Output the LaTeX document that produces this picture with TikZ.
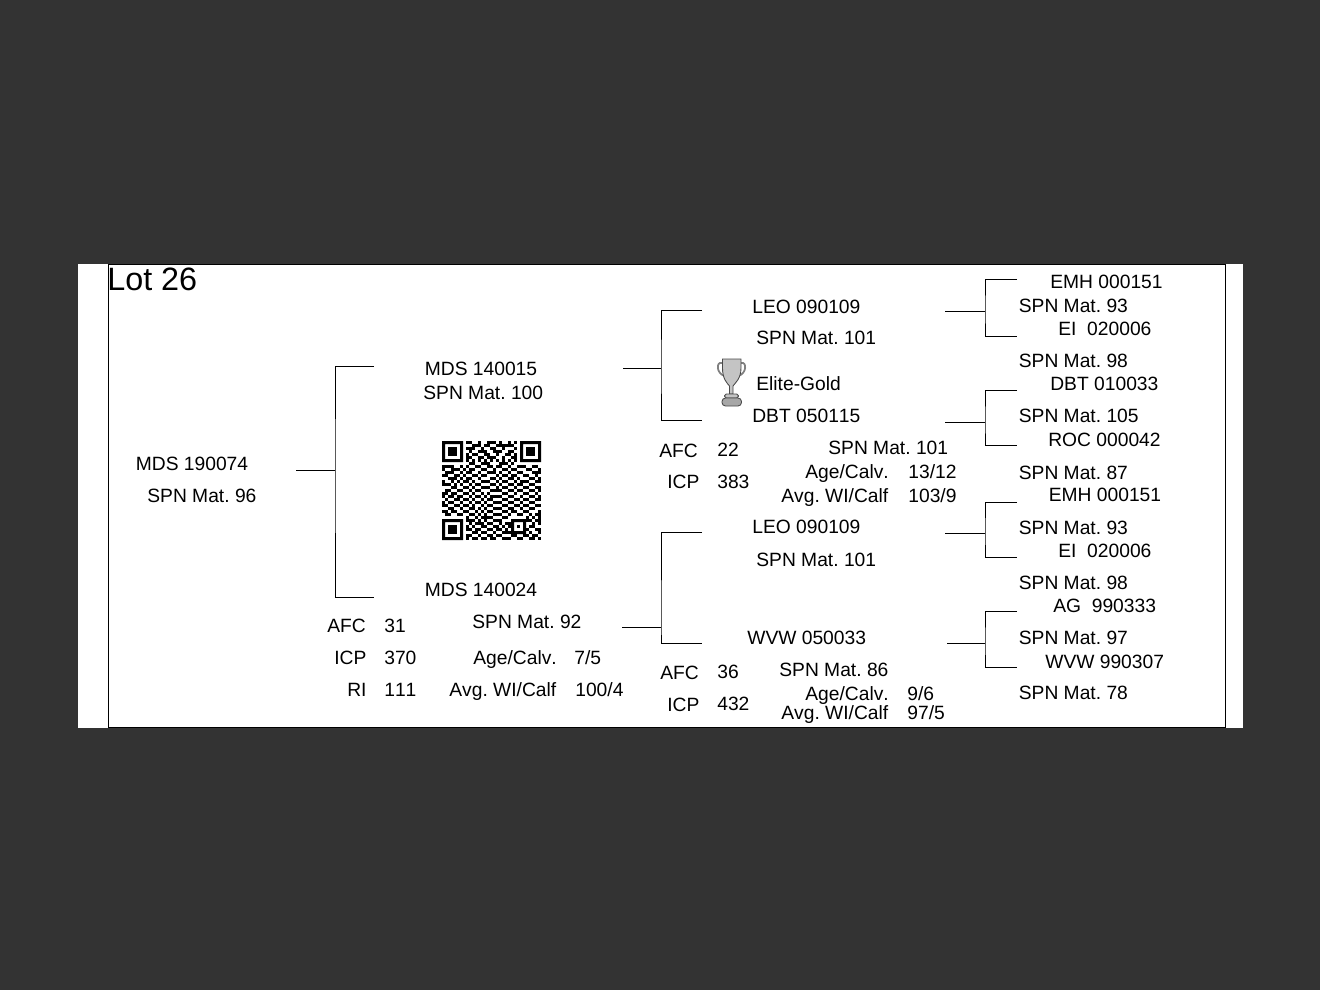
\documentclass[tikz,border=0pt]{standalone}
\usepackage{fontspec}
\setmainfont[Kerning=Off]{Liberation Sans}
\definecolor{backdrop}{HTML}{333333}
\definecolor{cupgray}{HTML}{C4C4C4}
\definecolor{cupline}{HTML}{4A4A4A}
\tikzset{
lbl/.style={anchor=base west,inner sep=0pt,font=\fontsize{10.95pt}{12pt}\selectfont},
brk/.style={line width=0.55pt,black},
qrcell/.style={fill=black},
}
\frenchspacing
\begin{document}
\begin{tikzpicture}[x=0.02cm,y=-0.02cm]
\useasboundingbox (0,0) rectangle (1320,990);
\fill[backdrop] (0,0) rectangle (1320,990);
\fill[white] (78,264) rectangle (1243,728);
\draw[line width=0.6pt] (108.5,264.5) rectangle (1225.5,727.5);
\node[lbl,font=\fontsize{18.4pt}{20pt}\selectfont] (lot) at (107,291) {Lot 26};
% first generation
\node[lbl] (calf) at (135.5,470) {MDS 190074};
\node[lbl] (calfspn) at (147,502) {SPN Mat. 96};
% second generation
\node[lbl] (sire) at (424.5,376) {MDS 140015};
\node[lbl] (sirespn) at (423,399) {SPN Mat. 100};
\node[lbl] (dam) at (424.5,596) {MDS 140024};
\node[lbl] (damspn) at (472,628) {SPN Mat. 92};
\node[lbl] (damafc) at (327,632) {AFC};
\node[lbl] (damafcv) at (384,632) {31};
\node[lbl] (damicp) at (334,664) {ICP};
\node[lbl] (damicpv) at (384,664) {370};
\node[lbl] (damri) at (347,696) {RI};
\node[lbl] (damriv) at (384,696) {111};
\node[lbl] (damage) at (473,664) {Age/Calv.};
\node[lbl] (damagev) at (574,664) {7/5};
\node[lbl] (damavg) at (449,696) {Avg. WI/Calf};
\node[lbl] (damavgv) at (575,696) {100/4};
% third generation
\node[lbl] (ss) at (752,313.5) {LEO 090109};
\node[lbl] (ssspn) at (756,344) {SPN Mat. 101};
\node[lbl] (elite) at (756,390) {Elite-Gold};
\node[lbl] (sd) at (752,422) {DBT 050115};
\node[lbl] (sdafc) at (659,457) {AFC};
\node[lbl] (sdafcv) at (717,456) {22};
\node[lbl] (sdicp) at (667,488) {ICP};
\node[lbl] (sdicpv) at (717,488) {383};
\node[lbl] (sdspn) at (828,454) {SPN Mat. 101};
\node[lbl] (sdage) at (805,478) {Age/Calv.};
\node[lbl] (sdagev) at (908,478) {13/12};
\node[lbl] (sdavg) at (781,502) {Avg. WI/Calf};
\node[lbl] (sdavgv) at (908,502) {103/9};
\node[lbl] (ds) at (752,533) {LEO 090109};
\node[lbl] (dsspn) at (756,566) {SPN Mat. 101};
\node[lbl] (dd) at (747,644) {WVW 050033};
\node[lbl] (ddafc) at (660,679) {AFC};
\node[lbl] (ddafcv) at (717,678) {36};
\node[lbl] (ddicp) at (667,711) {ICP};
\node[lbl] (ddicpv) at (717,710) {432};
\node[lbl] (ddspn) at (779,676) {SPN Mat. 86};
\node[lbl] (ddage) at (805,700) {Age/Calv.};
\node[lbl] (ddagev) at (907,700) {9/6};
\node[lbl] (ddavg) at (781,719) {Avg. WI/Calf};
\node[lbl] (ddavgv) at (907,719) {97/5};
% fourth generation
\node[lbl] (g1) at (1050,288.5) {EMH 000151};
\node[lbl] (g1spn) at (1018.5,312.5) {SPN Mat. 93};
\node[lbl] (g2) at (1058,335.5) {EI\ \ 020006};
\node[lbl] (g2spn) at (1018.5,367) {SPN Mat. 98};
\node[lbl] (g3) at (1050,390) {DBT 010033};
\node[lbl] (g3spn) at (1018.5,422) {SPN Mat. 105};
\node[lbl] (g4) at (1048,446) {ROC 000042};
\node[lbl] (g4spn) at (1018.5,479) {SPN Mat. 87};
\node[lbl] (g5) at (1048.5,501) {EMH 000151};
\node[lbl] (g5spn) at (1018.5,534) {SPN Mat. 93};
\node[lbl] (g6) at (1058,557) {EI\ \ 020006};
\node[lbl] (g6spn) at (1018.5,589) {SPN Mat. 98};
\node[lbl] (g7) at (1053,612) {AG\ \ 990333};
\node[lbl] (g7spn) at (1018.5,644) {SPN Mat. 97};
\node[lbl] (g8) at (1045,668) {WVW 990307};
\node[lbl] (g8spn) at (1018.5,699) {SPN Mat. 78};
% brackets
\foreach \n/\sx/\mx/\ex/\y/\t/\b in {
a/296/335/374/470/366/597,
b/623/661/702/368/310/420,
c/622/661/702/627/532/643,
d/945/985/1017/311/279/336,
e/945/985/1017/422/390/445,
f/945/985/1017/533/502/557,
g/947/985/1017/643/611/667}{
\coordinate (s\n) at (\sx,\y);
\coordinate (m\n) at (\mx,\y);
\coordinate (t\n) at (\ex,\t);
\coordinate (b\n) at (\ex,\b);
\draw[brk] (s\n) -- (m\n);
\draw[brk] (t\n) -| (m\n) |- (b\n);
}
% trophy
\draw[cupline!70!white,line width=1pt] (722,363) .. controls (716,361) and (716,374) .. (725,376);
\draw[cupline!70!white,line width=1pt] (741,363) .. controls (747,361) and (747,374) .. (738,376);
\draw[cupline,fill=cupgray,line width=0.5pt] (722.5,359) -- (741,359) -- (741,368) .. controls (741,379) and (735,383) .. (733,386) -- (733,394) -- (729.5,394) -- (729.5,386) .. controls (727,383) and (722.5,379) .. (722.5,368) -- cycle;
\draw[cupline,fill=cupgray,line width=0.5pt,rounded corners=1pt] (724.5,394) rectangle (738.5,398);
\draw[cupline,fill=cupgray!85!black,line width=0.5pt,rounded corners=2pt] (722,398) rectangle (741.5,406);
% qr code
\begin{scope}[shift={(442,441)}]
\foreach \cx/\cy in {0/0,26/0,0/26}{
\fill[qrcell,even odd rule] (3*\cx,3*\cy) rectangle ++(21,21) (3*\cx+3,3*\cy+3) rectangle ++(15,15);
\fill[qrcell] (3*\cx+6,3*\cy+6) rectangle ++(9,9);
}
\fill[qrcell,even odd rule] (69,78) rectangle ++(15,15) (72,81) rectangle ++(9,9);
\fill[qrcell] (75,84) rectangle ++(3,3);
\foreach \ry/\cols in {
0/{8,9,12,15,16,17,19,22,24},
1/{10,11,12,14,15,18,19,20,21,22,23},
2/{8,9,10,13,16,17,20,24},
3/{9,12,13,14,17,18,19,22,23},
4/{8,10,11,14,15,18,21,22,24},
5/{8,9,12,13,15,16,17,20,23,24},
6/{8,10,12,14,16,18,20,22,24},
7/{9,10,13,14,15,19,20,21,23},
8/{0,1,2,3,6,8,11,12,15,16,18,19,22,25,26,27,30,31},
9/{0,3,4,5,7,9,10,13,14,17,20,21,23,24,28,29,32},
10/{1,2,3,6,8,9,12,15,16,17,19,22,25,26,30,31,32},
11/{0,1,4,5,7,10,11,13,14,18,20,21,23,24,27,28,31},
12/{2,3,4,6,8,9,12,16,17,19,22,23,25,29,30,32},
13/{0,3,5,7,8,10,13,14,15,18,20,21,24,26,27,28,31,32},
14/{0,1,2,4,6,9,11,12,16,17,19,22,23,25,26,29,30},
15/{3,4,7,8,10,13,14,15,18,20,21,24,27,28,31,32},
16/{1,2,5,6,9,11,12,16,17,18,19,22,23,25,26,29,30,32},
17/{0,1,3,4,7,8,10,13,15,20,21,24,27,28,31},
18/{0,2,3,5,6,9,11,12,14,16,17,18,19,22,23,26,29,30,32},
19/{1,4,5,7,8,10,13,15,16,20,21,24,25,27,28,31,32},
20/{0,2,3,6,9,11,12,14,17,18,19,22,23,26,29,30},
21/{0,1,4,5,7,8,10,13,15,16,20,21,24,25,27,28,31,32},
22/{2,3,6,9,10,12,14,17,18,19,22,23,26,29,30},
23/{0,1,3,4,7,8,11,13,15,16,20,21,23,24,27,28,32},
24/{1,2,5,6,9,10,12,14,17,18,19,22,25,26,29,31,32},
25/{8,11,13,14,15,16,20,21,28,30,32},
26/{8,9,10,12,14,17,18,19,28,29,31,32},
27/{9,11,12,13,15,16,19,21,22,30,32},
28/{8,10,13,14,17,18,20,22,29,30},
29/{8,9,11,12,15,16,18,19,21,28,31,32},
30/{10,11,13,14,17,20,21,22,29,32},
31/{8,9,12,15,16,18,19,23,24,27,28,30,31},
32/{8,10,11,13,14,16,17,20,21,22,25,26,29,30,32}}{
\foreach \cx in \cols{
\fill[qrcell] (3*\cx,3*\ry) rectangle ++(3,3);
}}
\end{scope}
\end{tikzpicture}
\end{document}
